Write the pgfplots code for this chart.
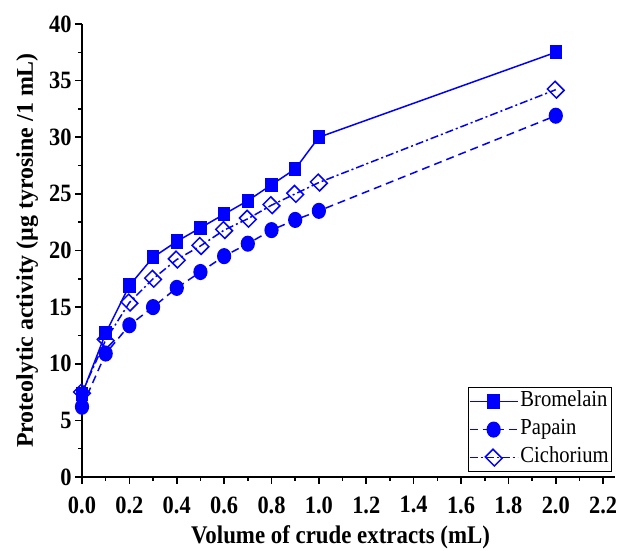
\documentclass[border=0pt]{standalone}
\usepackage{fontspec}
\setmainfont{Liberation Serif}[FakeStretch=0.9]
\newfontfamily\ylabfont{Liberation Serif}
\usepackage{pgfplots}
\pgfplotsset{compat=1.18}

\begin{document}
\begin{tikzpicture}[x=1bp,y=1bp]
\begin{axis}[
    scale only axis,
    width=533bp, height=453bp,
    xmin=0, xmax=2.25,
    ymin=0, ymax=40,
    axis x line=bottom, axis y line=left,
    axis line style={-, line width=1.8bp},
    xtick={0,0.2,0.4,0.6,0.8,1.0,1.2,1.4,1.6,1.8,2.0,2.2},
    ytick={0,5,10,15,20,25,30,35,40},
    minor x tick num=1, minor y tick num=1,
    tick align=outside,
    major tick length=7bp, minor tick length=4bp,
    tick style={black, line width=1.6bp},
    x tick label style={yshift=-9bp, /pgf/number format/.cd, fixed, fixed zerofill, precision=1, assume math mode=true},
    y tick label style={/pgf/number format/assume math mode=true},
    tick label style={font=\fontsize{25}{27}\selectfont\bfseries},
    xlabel style={font=\fontsize{25.5}{28}\selectfont\bfseries, yshift=-5bp, xshift=-8bp},
    ylabel style={font=\fontsize{24}{26}\selectfont\ylabfont\bfseries, yshift=4bp},
    xlabel={Volume of crude extracts (mL)},
    ylabel={Proteolytic activity (µg tyrosine /1 mL)},
    legend style={at={(rel axis cs:0.9944,0.011)}, anchor=south east,
        draw=black, line width=0.8bp, font=\fontsize{23}{28}\selectfont,
        row sep=0bp, inner xsep=1bp, inner ysep=0bp,
        nodes={inner xsep=2bp, inner ysep=0bp, text height=19bp, text depth=9bp}},
    legend cell align=left,
    legend image code/.code={\draw[mark repeat=2, mark phase=2, line width=1.5bp]
        plot coordinates {(0bp,0bp) (24bp,0bp) (48bp,0bp)};},
]
\addplot[color=blue, line width=1.5bp, mark=square*, mark size=6.4bp, mark options={solid, xscale=0.85}] coordinates {
    (0,7.3) (0.1,12.7) (0.2,16.9) (0.3,19.4) (0.4,20.8) (0.5,22.0) (0.6,23.2) (0.7,24.4) (0.8,25.8) (0.9,27.2) (1.0,30.0) (2.0,37.5)
};
\addlegendentry{Bromelain}
\addplot[color=blue, line width=1.5bp, dash pattern=on 8bp off 5bp, mark=*, mark size=7.3bp, mark options={solid, xscale=0.87}] coordinates {
    (0,6.2) (0.1,10.9) (0.2,13.4) (0.3,15.0) (0.4,16.7) (0.5,18.1) (0.6,19.5) (0.7,20.6) (0.8,21.8) (0.9,22.7) (1.0,23.5) (2.0,31.9)
};
\addlegendentry{Papain}
\addplot[color=blue, line width=1.5bp, dash pattern=on 8bp off 3bp on 2bp off 3bp, mark=square, mark size=6.4bp, mark options={solid, rotate=45, xscale=0.85, fill=white, line width=1.5bp}] coordinates {
    (0,7.45) (0.1,12.1) (0.2,15.4) (0.3,17.5) (0.4,19.2) (0.5,20.4) (0.6,21.8) (0.7,22.8) (0.8,24.0) (0.9,25.0) (1.0,26.0) (2.0,34.2)
};
\addlegendentry{Cichorium}
\end{axis}
\pgfresetboundingbox
\path ([xshift=-82bp,yshift=-74bp]current axis.south west) rectangle ([xshift=3bp,yshift=24bp]current axis.north east);
\end{tikzpicture}
\end{document}
